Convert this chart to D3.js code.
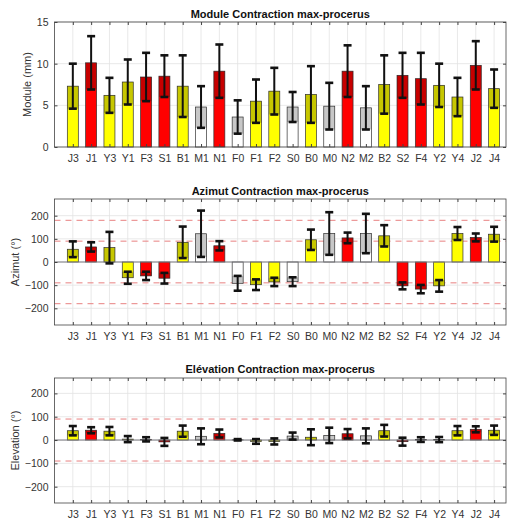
<!DOCTYPE html>
<html><head><meta charset="utf-8">
<script src="https://cdn.jsdelivr.net/npm/d3@7"></script>
<style>body{margin:0;background:#fff;} svg{display:block;font-family:"Liberation Sans",Arial,sans-serif;}</style>
</head><body><svg id="c" width="515" height="524"></svg>
<script>
// ---------------- data ----------------
const categories = ["J3","J1","Y3","Y1","F3","S1","B1","M1","N1","F0","F1","F2","S0","B0","M0","N2","M2","B2","S2","F4","Y2","Y4","J2","J4"];
const groups     = ["y","r","y","y","r","r","y","w","r","w","y","y","w","y","w","r","w","y","r","r","y","y","r","y"];

const moduleMean = [7.3,10.1,6.2,7.8,8.4,8.5,7.3,4.8,9.1,3.6,5.5,6.7,4.8,6.3,4.9,9.1,4.7,7.5,8.6,8.2,7.4,6.0,9.8,7.0];
const moduleStd  = [2.7,3.2,2.1,2.7,2.9,2.5,3.7,2.5,3.2,2.0,2.6,2.8,1.8,3.4,2.8,3.1,2.6,3.5,2.7,3.1,2.6,2.3,2.9,2.3];

const azimutMean = [55,65,62,-68,-60,-70,85,122,70,-92,-98,-86,-85,96,123,104,123,113,-103,-117,-103,123,106,120];
const azimutStd  = [34,20,68,26,18,23,68,100,20,32,23,18,19,44,92,23,85,46,15,18,25,28,17,32];

const elevMean = [40,42,38,4,3,-8,38,16,28,1,-6,-6,17,12,20,27,18,40,-7,2,2,40,46,42];
const elevStd  = [20,13,18,13,9,17,24,34,17,3,10,13,15,34,33,20,32,25,17,10,11,20,13,20];

const moduleTicks = [0,5,10,15];
const angleTicks  = [-200,-100,0,100,200];
const azimutRefs  = [-180,-90,90,180];
const elevRefs    = [-90,90];

const groupFill = {y:"#ffff00", r:"#ff0000", w:"#ffffff"};

// ---------------- drawing ----------------
const svg = d3.select("#c");
svg.append("rect").attr("width",515).attr("height",524).attr("fill","#fff");

const xLeft = 54.5, xRight = 506;
const x = d3.scaleLinear().domain([0, 24.65]).range([xLeft, xRight]);
const step = x(2) - x(1);
const barW = step * 0.6;
const capW = 8;

const panels = [
  {title:"Module Contraction max-procerus", ylabel:"Module (mm)", mean:moduleMean, std:moduleStd,
   domain:[0,15], ticks:moduleTicks, refs:[], top:22, bottom:147, titleY:18, ylabX:28, xlabY:162, baseline:false},
  {title:"Azimut Contraction max-procerus", ylabel:"Azimut (°)", mean:azimutMean, std:azimutStd,
   domain:[-272,272], ticks:angleTicks, refs:azimutRefs, top:199, bottom:325, titleY:195, ylabX:16, xlabY:340, baseline:true},
  {title:"Elévation Contraction max-procerus", ylabel:"Elevation (°)", mean:elevMean, std:elevStd,
   domain:[-270,266], ticks:angleTicks, refs:elevRefs, top:378, bottom:503, titleY:373, ylabX:16, xlabY:517, baseline:true}
];

panels.forEach(p => {
  const y = d3.scaleLinear().domain(p.domain).range([p.bottom, p.top]);
  const g = svg.append("g");

  // grid
  g.selectAll(".vg").data(categories).enter().append("line")
    .attr("x1",(d,i)=>x(i+1)).attr("x2",(d,i)=>x(i+1))
    .attr("y1",p.top).attr("y2",p.bottom)
    .attr("stroke","#e3e3e3").attr("stroke-width",0.8);
  g.selectAll(".hg").data(p.ticks).enter().append("line")
    .attr("x1",xLeft).attr("x2",xRight)
    .attr("y1",d=>y(d)).attr("y2",d=>y(d))
    .attr("stroke","#e3e3e3").attr("stroke-width",0.8);

  // reference dashed lines
  g.selectAll(".ref").data(p.refs).enter().append("line")
    .attr("x1",xLeft).attr("x2",xRight)
    .attr("y1",d=>y(d)).attr("y2",d=>y(d))
    .attr("stroke","#e88080").attr("stroke-width",1)
    .attr("stroke-dasharray","6,5");

  // bars
  const data = categories.map((c,i)=>({c, i, m:p.mean[i], s:p.std[i], gr:groups[i]}));
  g.selectAll(".bar").data(data).enter().append("rect")
    .attr("x",d=>x(d.i+1)-barW/2).attr("width",barW)
    .attr("y",d=>Math.min(y(d.m),y(0)))
    .attr("height",d=>Math.abs(y(d.m)-y(0)))
    .attr("fill",d=>groupFill[d.gr])
    .attr("stroke","#333").attr("stroke-width",0.7);

  // darker overlay between mean and (mean - std) inside the bar
  g.selectAll(".ov").data(data).enter().append("rect")
    .attr("x",d=>x(d.i+1)-barW/2).attr("width",barW)
    .attr("y",d=>{
      const a = d.m >= 0 ? Math.max(0, d.m - d.s) : d.m;
      const b = d.m >= 0 ? d.m : Math.min(0, d.m + d.s);
      return Math.min(y(a),y(b));
    })
    .attr("height",d=>{
      const a = d.m >= 0 ? Math.max(0, d.m - d.s) : d.m;
      const b = d.m >= 0 ? d.m : Math.min(0, d.m + d.s);
      return Math.abs(y(a)-y(b));
    })
    .attr("fill","#000").attr("opacity",0.22);

  // baseline
  if (p.baseline) {
    g.append("line").attr("x1",xLeft).attr("x2",xRight)
      .attr("y1",y(0)).attr("y2",y(0))
      .attr("stroke","#7a7a80").attr("stroke-width",1);
  }

  // error bars
  const eb = g.selectAll(".eb").data(data).enter().append("g");
  eb.append("line")
    .attr("x1",d=>x(d.i+1)).attr("x2",d=>x(d.i+1))
    .attr("y1",d=>y(d.m-d.s)).attr("y2",d=>y(d.m+d.s))
    .attr("stroke","#111").attr("stroke-width",2);
  [-1,1].forEach(sg=>{
    eb.append("line")
      .attr("x1",d=>x(d.i+1)-capW/2).attr("x2",d=>x(d.i+1)+capW/2)
      .attr("y1",d=>y(d.m+sg*d.s)).attr("y2",d=>y(d.m+sg*d.s))
      .attr("stroke","#111").attr("stroke-width",2.6);
  });

  // axes frame
  g.append("rect").attr("x",xLeft).attr("y",p.top)
    .attr("width",xRight-xLeft).attr("height",p.bottom-p.top)
    .attr("fill","none").attr("stroke","#444").attr("stroke-width",0.8);

  // x axis (ticks inward) bottom and top
  const xAxis = d3.axisBottom(x).tickValues(d3.range(1, categories.length+1))
    .tickFormat(d=>categories[d-1]).tickSizeInner(-3).tickSizeOuter(0).tickPadding(8);
  const xa = g.append("g").attr("transform",`translate(0,${p.bottom})`).call(xAxis);
  xa.select(".domain").remove();
  xa.selectAll("line").attr("stroke","#444");
  xa.selectAll("text").attr("font-size","10.5px").attr("fill","#333");
  const xt = g.append("g").attr("transform",`translate(0,${p.top})`)
    .call(d3.axisTop(x).tickValues(d3.range(1, categories.length+1)).tickFormat("").tickSizeInner(-3).tickSizeOuter(0));
  xt.select(".domain").remove();
  xt.selectAll("line").attr("stroke","#444");

  // y axis
  const ya = g.append("g").attr("transform",`translate(${xLeft},0)`)
    .call(d3.axisLeft(y).tickValues(p.ticks).tickSizeInner(-3).tickSizeOuter(0).tickPadding(6));
  ya.select(".domain").remove();
  ya.selectAll("line").attr("stroke","#444");
  ya.selectAll("text").attr("font-size","10.5px").attr("fill","#333");
  const yr = g.append("g").attr("transform",`translate(${xRight},0)`)
    .call(d3.axisRight(y).tickValues(p.ticks).tickFormat("").tickSizeInner(-3).tickSizeOuter(0));
  yr.select(".domain").remove();
  yr.selectAll("line").attr("stroke","#444");

  // title
  svg.append("text").attr("x",(xLeft+xRight)/2).attr("y",p.titleY)
    .attr("text-anchor","middle").attr("font-size","11px").attr("font-weight","bold")
    .attr("fill","#111").text(p.title);

  // y label
  svg.append("text")
    .attr("transform",`translate(${p.ylabX},${(p.top+p.bottom)/2}) rotate(-90)`)
    .attr("text-anchor","middle").attr("dominant-baseline","middle")
    .attr("font-size","11px").attr("fill","#333").text(p.ylabel);
});
</script>
</body></html>
